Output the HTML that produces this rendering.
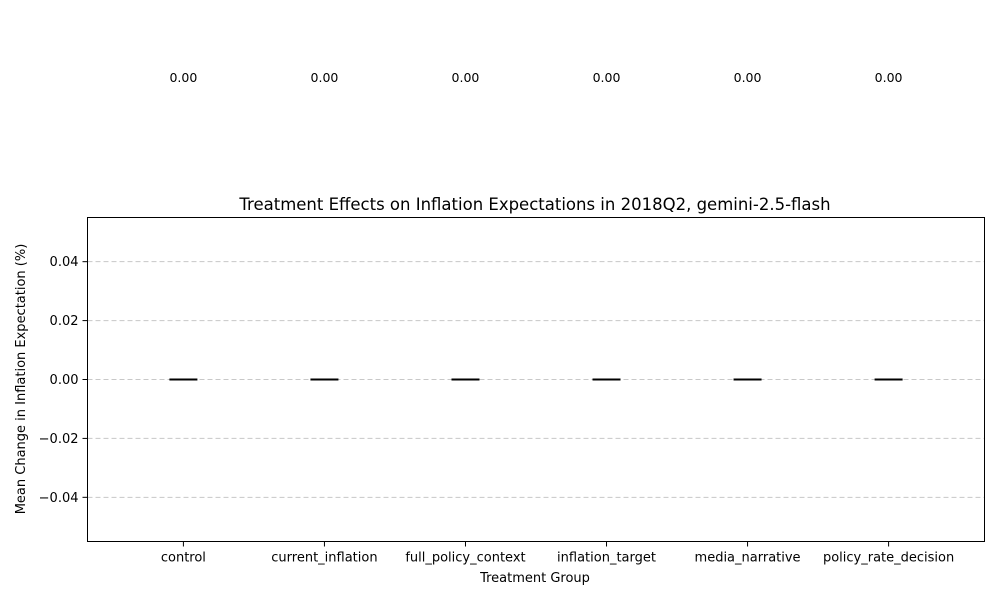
<!DOCTYPE html>
<html><head><meta charset="utf-8"><style>
body{margin:0;background:#fff;width:1000px;height:600px;overflow:hidden}
text{font-family:"DejaVu Sans","Liberation Sans",sans-serif;fill:#000}
</style></head><body>
<svg id="chart" width="1000" height="600">
<rect x="0" y="0" width="1000" height="600" fill="#fff"/>
<g id="grid"></g>
<g id="bars"></g>
<rect x="87.5" y="217.5" width="897" height="324" fill="none" stroke="#000" stroke-width="1"/>
<g id="axes"></g>
<text x="535" y="210" font-size="16.5" text-anchor="middle">Treatment Effects on Inflation Expectations in 2018Q2, gemini-2.5-flash</text>
<text x="535" y="582" font-size="13" text-anchor="middle">Treatment Group</text>
<text transform="translate(25,379) rotate(-90)" font-size="13" text-anchor="middle">Mean Change in Inflation Expectation (%)</text>
</svg>
<script>
const categories=["control","current_inflation","full_policy_context","inflation_target","media_narrative","policy_rate_decision"];
const values=[0,0,0,0,0,0];
const valueLabels=["0.00","0.00","0.00","0.00","0.00","0.00"];
const yTicks=[-0.04,-0.02,0,0.02,0.04];
const yTickLabels=["\u22120.04","\u22120.02","0.00","0.02","0.04"];
const L=87.5,R=984.5,T=217.5,B=541.5,yMin=-0.055,yMax=0.055;
const ns="http://www.w3.org/2000/svg";
function y(v){return B-(v-yMin)/(yMax-yMin)*(B-T);}
const step=(R-L)/(categories.length+0.36);
function x(i){return L+step*(0.68+i);}
function mk(tag,attrs,parent){const e=document.createElementNS(ns,tag);for(const k in attrs)e.setAttribute(k,attrs[k]);document.getElementById(parent).appendChild(e);return e;}
yTicks.forEach((t,i)=>{
 const g=mk("line",{x1:L,x2:R,y1:y(t),y2:y(t),stroke:"#c8c8c8","stroke-dasharray":"5,3","stroke-width":1},"grid");
 
 
 const tk=mk("line",{x1:L-5,x2:L,y1:y(t),y2:y(t),stroke:"#000"},"axes");
 
 
 const tl=mk("text",{x:L-9,y:y(t)+4.5,"font-size":13,"text-anchor":"end"},"axes");
 tl.textContent=yTickLabels[i];
 
 
});
categories.forEach((c,i)=>{
 const cx=x(i),v=values[i];
 const top=Math.min(y(v),y(0)),h=Math.abs(y(v)-y(0));
 const bar=mk("rect",{x:cx-14,y:top,width:28,height:Math.max(h,0),fill:"#4c72b0"},"bars");
 
 
 const ln=mk("line",{x1:cx-14,x2:cx+14,y1:y(v),y2:y(v),stroke:"#000","stroke-width":2},"bars");
 
 
 const tk=mk("line",{x1:cx,x2:cx,y1:B,y2:B+5,stroke:"#000"},"axes");
 
 
 const tl=mk("text",{x:cx,y:B+20,"font-size":13,"text-anchor":"middle"},"axes");
 tl.textContent=c;
 
 
 const vl=mk("text",{x:cx,y:82,"font-size":12.5,"text-anchor":"middle"},"axes");
 vl.textContent=valueLabels[i];
 
 
});
</script>
</body></html>
